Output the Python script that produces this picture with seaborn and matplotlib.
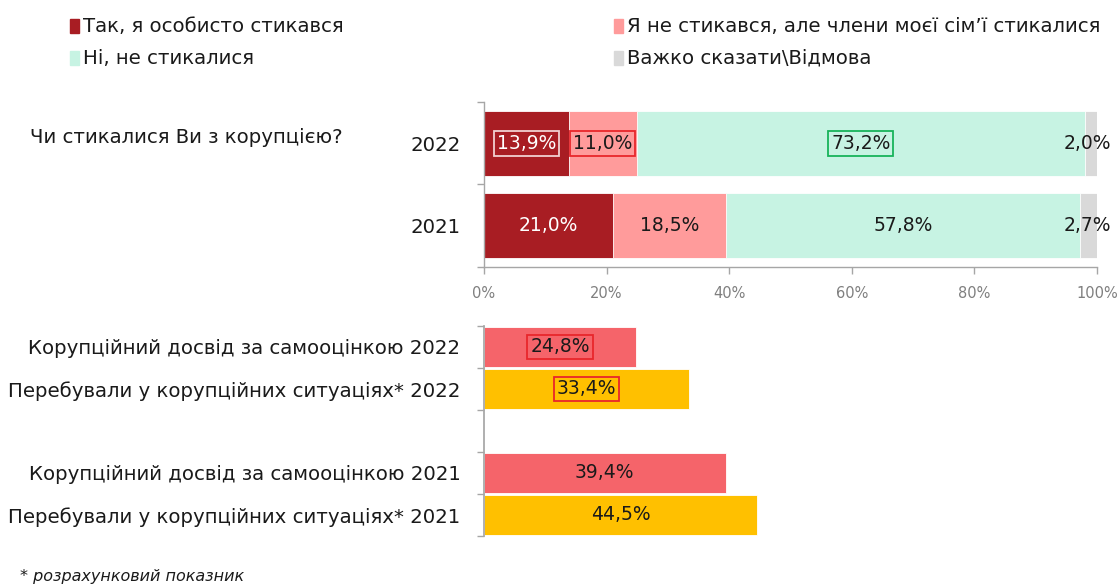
import matplotlib
matplotlib.use("Agg")
import matplotlib.pyplot as plt
from matplotlib.patches import Rectangle
import seaborn as sns
import pandas as pd
import numpy as np

# ---- data ----
years = ["2022", "2021"]
series_names = ["Так, я особисто стикався",
                "Я не стикався, але члени моєї сім’ї стикалися",
                "Ні, не стикалися",
                "Важко сказати\\Відмова"]
personal = [13.9, 21.0]
family = [11.0, 18.5]
never = [73.2, 57.8]
hard = [2.0, 2.7]

bottom_cats = ["Корупційний досвід за самооцінкою 2022",
               "Перебували у корупційних ситуаціях* 2022",
               "Корупційний досвід за самооцінкою 2021",
               "Перебували у корупційних ситуаціях* 2021"]
bottom_vals = [24.8, 33.4, 39.4, 44.5]
bottom_kind = ["self", "sit", "self", "sit"]

question = "Чи стикалися Ви з корупцією?"
footnote = "* розрахунковий показник"
xtick_labels = ["0%", "20%", "40%", "60%", "80%", "100%"]

# ---- style ----
sns.set_theme(style="white")
plt.rcParams['font.family'] = ['DejaVu Sans']

c_dark = "#A81D23"
c_pink = "#FF9B9B"
c_mint = "#C7F3E3"
c_gray = "#D9D9D9"
c_red2 = "#F5646A"
c_yel = "#FFC000"
spine_c = "#A6A6A6"
txt_c = "#1A1A1A"
FS = 14.2

W, H = 1119, 586
fig = plt.figure(figsize=(W / 100, H / 100), dpi=100)

def fx(px):
    return px / W

def fy(py):
    return 1 - py / H

# ---- top stacked chart ----
ax1 = fig.add_axes([fx(484), fy(267), fx(613), 165 / H])
series = [personal, family, never, hard]
colors = [c_dark, c_pink, c_mint, c_gray]
cum = np.cumsum(np.array(series), axis=0)
df_top = pd.DataFrame({"year": years * 4,
                       "cum": cum.flatten(),
                       "s": np.repeat(range(4), 2)})
for i in range(3, -1, -1):
    sub = df_top[df_top.s == i]
    sns.barplot(data=sub, x="cum", y="year", order=years, color=colors[i],
                orient="h", width=0.79, ax=ax1, saturation=1,
                edgecolor="white", linewidth=0.6)

ax1.set_xlim(0, 100)
ax1.set_ylim(1.5, -0.5)
ax1.set_xticks([0, 20, 40, 60, 80, 100])
ax1.set_xticklabels(xtick_labels, color="#7F7F7F", fontsize=10.5)
ax1.set_yticks([0, 1])
ax1.set_yticklabels(years, fontsize=FS, color=txt_c)
ax1.set_yticks([-0.5, 0.5, 1.5], minor=True)
ax1.tick_params(axis="y", which="major", length=0, pad=17)
ax1.tick_params(axis="y", which="minor", length=5, color=spine_c, width=1, left=True)
ax1.tick_params(axis="x", length=5, color=spine_c, width=1, bottom=True, pad=9)
ax1.set_xlabel("")
ax1.set_ylabel("")
for s in ["top", "right"]:
    ax1.spines[s].set_visible(False)
for s in ["left", "bottom"]:
    ax1.spines[s].set_color(spine_c)
    ax1.spines[s].set_linewidth(1)

# labels on segments
box_styles = {
    (0, 0): ("white", "#F2D0D0"),
    (0, 1): (txt_c, "#E8262B"),
    (0, 2): (txt_c, "#17B35A"),
}
for j in range(2):
    left = 0
    for i in range(4):
        v = series[i][j]
        cx = left + v / 2
        col = "white" if i == 0 else txt_c
        lbl = f"{v:.1f}%".replace(".", ",")
        bbox = None
        if (j, i) in box_styles:
            col, ec = box_styles[(j, i)]
            bbox = dict(boxstyle="square,pad=0.15", fc="none", ec=ec, lw=1.3)
        if i == 3:
            cx = 100 - 1.5
        ax1.text(cx, j, lbl, ha="center", va="center", fontsize=13.5,
                 color=col, bbox=bbox)
        left += v

# ---- bottom chart ----
ax2 = fig.add_axes([fx(484), fy(536), fx(613), 210 / H])
order = [bottom_cats[0], bottom_cats[1], " ", bottom_cats[2], bottom_cats[3]]
df_bot = pd.DataFrame({"cat": bottom_cats, "val": bottom_vals, "kind": bottom_kind})
sns.barplot(data=df_bot, x="val", y="cat", hue="kind", order=order,
            palette={"self": c_red2, "sit": c_yel}, orient="h", width=0.96,
            dodge=False, ax=ax2, saturation=1, legend=False,
            edgecolor="white", linewidth=0.6)
ax2.set_xlim(0, 100)
ax2.set_ylim(4.5, -0.5)
ax2.set_xticks([])
ax2.set_yticks(range(5))
ax2.set_yticklabels(order, fontsize=FS, color=txt_c)
ax2.set_yticks(np.arange(-0.5, 5, 1), minor=True)
ax2.tick_params(axis="y", which="major", length=0, pad=17)
ax2.tick_params(axis="y", which="minor", length=5, color=spine_c, width=1, left=True)
ax2.set_xlabel("")
ax2.set_ylabel("")
for s in ["top", "right", "bottom"]:
    ax2.spines[s].set_visible(False)
ax2.spines["left"].set_color(spine_c)

ypos = {0: 0, 1: 1, 2: 3, 3: 4}
for k, v in enumerate(bottom_vals):
    lbl = f"{v:.1f}%".replace(".", ",")
    bbox = None
    if k < 2:
        bbox = dict(boxstyle="square,pad=0.15", fc="none", ec="#E8262B", lw=1.3)
    ax2.text(v / 2, ypos[k], lbl, ha="center", va="center", fontsize=13.5,
             color=txt_c, bbox=bbox)

# ---- legend (manual) ----
leg = [(70, 26, 0), (614, 26, 1), (70, 58, 2), (614, 58, 3)]
for x, y, i in leg:
    fig.patches.append(Rectangle((fx(x), fy(y + 7)), fx(9), 14 / H,
                                 transform=fig.transFigure, color=colors[i]))
    fig.text(fx(x + 13), fy(y), series_names[i], fontsize=FS, color=txt_c,
             va="center", ha="left")

fig.text(fx(30), fy(138), question, fontsize=FS, color=txt_c, va="center", ha="left")
fig.text(fx(20), fy(577), footnote, fontsize=11.5, color=txt_c, va="center",
         ha="left", style="italic")

fig.savefig("out.png", dpi=100)
